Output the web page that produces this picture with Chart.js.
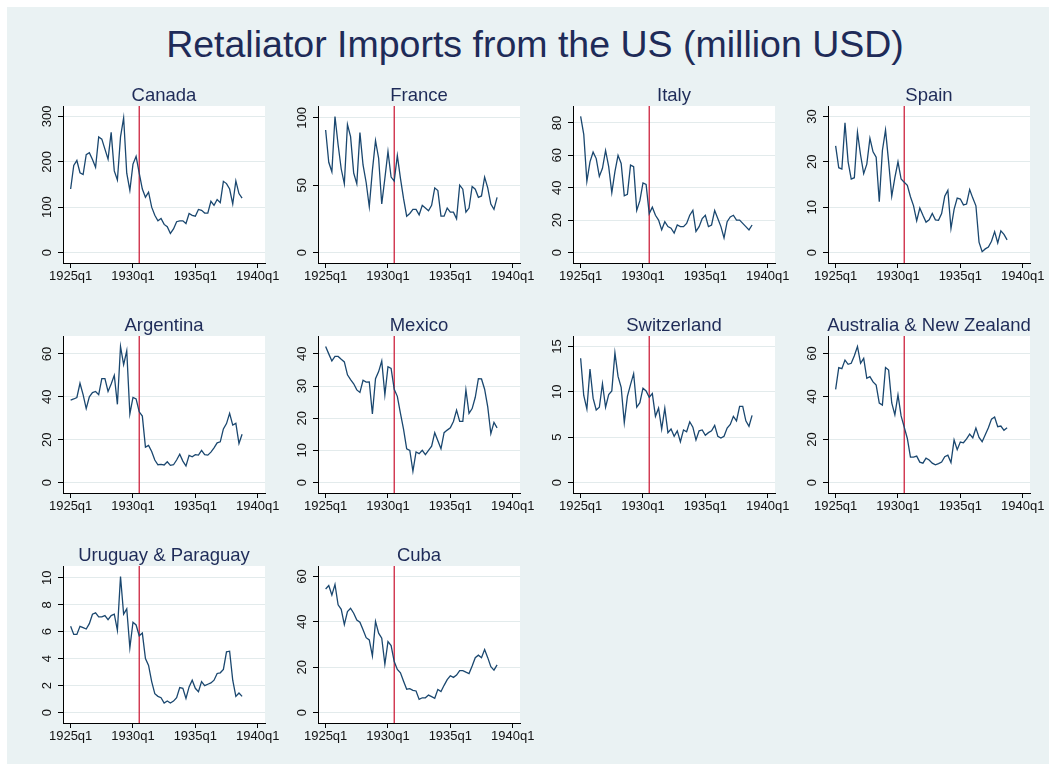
<!DOCTYPE html>
<html><head><meta charset="utf-8">
<script src="https://cdn.jsdelivr.net/npm/chart.js@4.4.0/dist/chart.umd.min.js"></script>
<style>
html,body{margin:0;padding:0;background:#fff;width:1056px;height:771px;overflow:hidden;}
#frame{position:absolute;left:7px;top:7px;width:1042px;height:757px;background:#eaf2f3;}
#title{position:absolute;left:14px;width:1042px;top:26px;text-align:center;font:37.5px/37px "Liberation Sans",Arial,sans-serif;color:#1e2b58;white-space:nowrap;}
canvas.panel{position:absolute;}
</style></head><body>
<div id="frame"></div>
<div id="title">Retaliator Imports from the US (million USD)</div>
<script>
// ---- data ----
const countries = ['Canada','France','Italy','Spain','Argentina','Mexico','Switzerland','Australia & New Zealand','Uruguay & Paraguay','Cuba'];
const startYear = 1925;
const breakQuarter = '1930q3';
const xTickValues = [0,20,40,60];
const xTickLabels = ['1925q1','1930q1','1935q1','1940q1'];

const canada = [140,192,203,176,172,216,220,205,188,255,250,228,206,265,180,160,255,297,175,137,195,212,175,140,122,133,100,82,70,75,62,57,42,52,68,70,70,64,86,82,80,95,93,87,87,113,104,117,110,157,152,140,107,158,130,120];
const france = [91,67,60,101,80,62,51,95,86,59,51,89,65,52,34,61,83,70,36,55,75,56,53,72,55,40,27,29,32,32,28,35,33,31,35,48,46,27,27,33,30,30,25,50,47,30,33,49,47,41,42,56,48,36,32,41];
const italy = [84,73,44,56,62,58,47,52,63,53,37,50,60,55,35,36,54,53,26,32,43,42,24,28,23,20,14,19,16,15,12,17,16,16,18,23,26,13,16,21,23,16,17,26,21,16,9,19,22,23,20,20,18,16,14,17];
const spain = [23.5,18.7,18.4,28.6,20,16.2,16.5,26.5,21.5,17.4,19.5,25.2,22.2,21,11.2,22.5,27,20,12.4,16.5,20,16.2,15.5,14.8,12.3,10.3,7,9.8,8.2,6.7,7.2,8.6,7.2,7.1,8.6,12.4,13.7,5.3,9.5,12,11.8,10.5,10.7,13.9,12,10.3,2.3,0.2,0.8,1.2,2.5,4.6,2.1,4.8,4,2.8];
const argentina = [38.5,39,39.7,46.3,41,34.5,40,42,42.5,41,48.5,48.5,42.5,46,50,36.5,63.5,55,61.5,32,39.7,39,33,31,16.5,17.3,14.5,10.5,8.3,8.5,8.2,9.7,8,8.3,10.5,13.2,10,7.7,12.7,12,13,12.8,15,13,12.8,14.2,16.2,18.5,19,25,27.5,32.3,26.8,27.6,18.2,22.5];
const mexico = [42.3,40,37.8,39.2,39.2,38.3,37.5,33.5,32,30.7,28.8,28,31.8,31.2,31.3,21.3,32.3,34.5,37.8,27.3,36,35.5,29,26.8,21.5,16.5,10.5,10,3.5,9.5,9,10,8.7,10,11.3,15.5,13,10.5,15.5,16.3,17,19,22.5,19,19,28.8,21.5,23,26.5,32.3,32.2,29,23.5,15.2,18.7,17];
const switzerland = [13.7,9.6,8.1,12.5,9.3,8,8.3,10.9,8.3,9.7,10.1,14.3,11.7,10.5,6.6,9.5,10.8,12,8.3,8.8,10.4,10.1,9.4,9.8,7.3,8.2,5.9,8.2,5.5,5.9,5.1,5.7,4.5,5.8,5.6,6.7,6.1,4.7,5.7,5.8,5.2,5.5,5.7,6.3,5.1,4.9,5.1,6,6.4,7.3,6.8,8.4,8.4,6.8,6.2,7.4];
const ausNz = [43.3,53.5,53,57,55,55.5,59,63.3,55.5,57.8,48.5,49.3,46.8,45.3,37,36,53.5,52.3,37,31.5,40.8,31,25.8,20.5,11.8,11.8,12.3,9.5,9,11.3,10.5,9,8.2,8.8,9.5,12,12.7,9.3,19.8,15.3,18.8,18.5,20.3,22.5,20.8,25.3,21,19,22.2,25.5,29.5,30.5,26,26.3,24.3,25.5];
const uruguayParaguay = [6.4,5.8,5.8,6.4,6.3,6.2,6.6,7.3,7.4,7.1,7.1,7.2,6.9,7.2,7.3,6.1,10.1,7.3,7.7,4.8,6.7,6.5,5.7,5.9,4,3.5,2.3,1.4,1.2,1.1,0.7,0.85,0.7,0.85,1.1,1.85,1.8,1.05,1.9,2.4,1.8,1.55,2.3,2,2.1,2.2,2.4,2.9,2.95,3.2,4.5,4.55,2.4,1.2,1.45,1.2];
const cuba = [54.5,56,51.8,56.5,47.5,45.5,38.8,44.5,46,43.8,40.8,39.8,36.5,33,32,25,40.2,35,32.8,21.3,31.3,29.5,22.5,19,17.5,13.8,10.3,10.5,9.8,9.5,5.8,6.5,6.5,7.7,7,6.3,10.2,9.3,12,14.5,16.2,15.5,16.5,18.5,18.5,17.8,17.2,20.5,24.2,25.3,24.2,27.8,24.2,20.2,18.7,21];

const yTicks = [[0,100,200,300],[0,50,100],[0,20,40,60,80],[0,10,20,30],[0,20,40,60],[0,10,20,30,40],[0,5,10,15],[0,20,40,60],[0,2,4,6,8,10],[0,20,40,60]];
const seriesList = [canada,france,italy,spain,argentina,mexico,switzerland,ausNz,uruguayParaguay,cuba];

// ---- derived ----
const quarters = canada.map((_, i) => (startYear + Math.floor(i/4)) + 'q' + (i%4 + 1));
const breakIndex = quarters.indexOf(breakQuarter);

// ---- style / layout ----
const FONT = '"Liberation Sans", Arial, sans-serif';
const LINE = '#1a476f', RED = '#c8102e', GRID = '#e3ebec', TXT = '#1e2b58';
const PLOT_W = 202, PLOT_H = 157, COL0 = 63, ROW0 = 106, COL_STEP = 255, ROW_STEP = 230;
const AX_W = 40, AX_H = 28, PAD_T = 30, PAD_R = 30;

const panelPlugin = {
  id: 'panelDeco',
  beforeDraw(chart) {
    const {ctx, chartArea: a} = chart;
    ctx.save(); ctx.fillStyle = '#fff';
    ctx.fillRect(a.left, a.top, a.right - a.left, a.bottom - a.top);
    ctx.restore();
  },
  beforeDatasetsDraw(chart) {
    const {ctx, chartArea: a, scales} = chart;
    const x = scales.x.getPixelForValue(breakIndex);
    ctx.save(); ctx.strokeStyle = RED; ctx.lineWidth = 1.2;
    ctx.beginPath(); ctx.moveTo(x, a.top); ctx.lineTo(x, a.bottom); ctx.stroke();
    ctx.restore();
  },
  afterDraw(chart) {
    const {ctx, chartArea: a, scales} = chart;
    const opts = chart.options.plugins.panelDeco;
    ctx.save();
    ctx.fillStyle = TXT; ctx.font = '18.5px ' + FONT;
    ctx.textAlign = 'center'; ctx.textBaseline = 'alphabetic';
    ctx.fillText(opts.title, (a.left + a.right)/2, a.top - 5.5);
    ctx.fillStyle = '#111'; ctx.font = '13px ' + FONT;
    ctx.textBaseline = 'middle';
    scales.y.ticks.forEach(t => {
      const y = scales.y.getPixelForValue(t.value);
      ctx.save(); ctx.translate(a.left - 15.5, y); ctx.rotate(-Math.PI/2);
      ctx.fillText(String(t.value), 0, 0); ctx.restore();
    });
    ctx.restore();
  }
};

countries.forEach((name, i) => {
  const col = i % 4, row = Math.floor(i / 4);
  const plotLeft = COL0 + col*COL_STEP, plotTop = ROW0 + row*ROW_STEP;
  const cv = document.createElement('canvas');
  cv.className = 'panel';
  const W = AX_W + PLOT_W + PAD_R, H = PAD_T + PLOT_H + AX_H;
  cv.width = W; cv.height = H;
  cv.style.width = W + 'px'; cv.style.height = H + 'px';
  cv.style.left = (plotLeft - AX_W) + 'px'; cv.style.top = (plotTop - PAD_T) + 'px';
  document.body.appendChild(cv);

  const data = seriesList[i];
  const ticks = yTicks[i];
  const lo = Math.min(ticks[0], Math.min(...data));
  const hi = Math.max(ticks[ticks.length-1], Math.max(...data));
  const pad = (hi - lo) * 0.077;

  new Chart(cv, {
    type: 'line',
    data: { datasets: [{ data: data.map((v, k) => ({x: k, y: v})), borderColor: LINE, borderWidth: 1.3, pointRadius: 0, tension: 0, fill: false }] },
    options: {
      responsive: false, animation: false, devicePixelRatio: 1,
      layout: { autoPadding: false, padding: { top: PAD_T, right: PAD_R, left: 0, bottom: 0 } },
      plugins: { legend: { display: false }, tooltip: { enabled: false }, panelDeco: { title: name } },
      scales: {
        x: {
          type: 'linear', min: -2.45, max: 62.35,
          afterBuildTicks: s => { s.ticks = xTickValues.map(v => ({value: v})); },
          afterFit: s => { s.height = AX_H; },
          grid: { drawOnChartArea: false, tickColor: '#000', tickLength: 5 },
          border: { color: '#000', width: 1 },
          ticks: { callback: v => xTickLabels[xTickValues.indexOf(v)], font: { family: FONT, size: 13 }, color: '#111', padding: 1, minRotation: 0, maxRotation: 0, autoSkip: false }
        },
        y: {
          min: lo - pad, max: hi + pad,
          afterBuildTicks: s => { s.ticks = ticks.map(v => ({value: v})); },
          afterFit: s => { s.width = AX_W; },
          grid: { color: GRID, lineWidth: 1, tickColor: '#000', tickLength: 5 },
          border: { color: '#000', width: 1 },
          ticks: { display: false }
        }
      }
    },
    plugins: [panelPlugin]
  });
});
</script>
</body></html>
